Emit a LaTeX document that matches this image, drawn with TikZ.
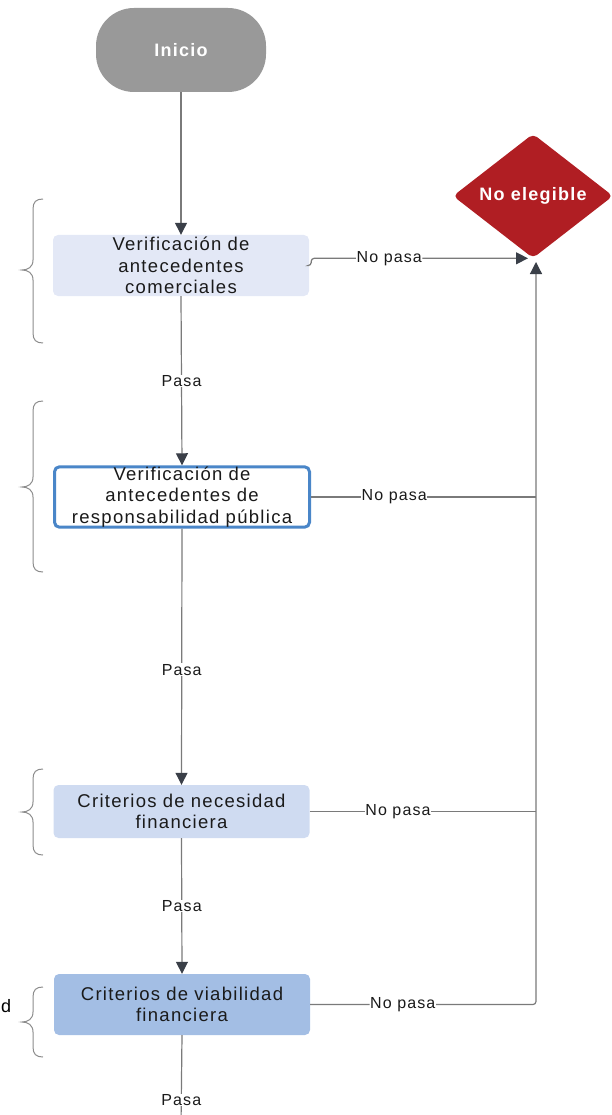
\documentclass[tikz,border=0pt]{standalone}
\usepackage{fontspec}
\setmainfont{Liberation Sans}[LetterSpace=7]
\usetikzlibrary{shapes.geometric,arrows.meta}
\definecolor{linegray}{HTML}{7A7A7A}
\definecolor{tipdark}{HTML}{3A3F48}
\definecolor{startgray}{HTML}{999999}
\definecolor{boxa}{HTML}{E3E8F6}
\definecolor{boxc}{HTML}{CFDBF1}
\definecolor{boxd}{HTML}{A3BEE4}
\definecolor{blueedge}{HTML}{4A86C8}
\definecolor{redd}{HTML}{B01E23}
\definecolor{txt}{HTML}{1A1A1A}
\definecolor{bracegray}{HTML}{8C8C8C}
\tikzset{
  stepbox/.style={rectangle, rounded corners=5pt, minimum width=256pt, text width=250pt, align=center, text=txt, inner sep=0pt, font=\fontsize{18.5}{21.5}\selectfont},
  startnode/.style={rectangle, rounded corners=38pt, fill=startgray, text=white, minimum width=170pt, minimum height=84pt, font=\fontsize{18}{21}\selectfont\bfseries},
  endnode/.style={diamond, rounded corners=5pt, fill=redd, text=white, minimum width=160pt, minimum height=124pt, inner sep=0pt, font=\fontsize{18}{21}\selectfont\bfseries},
  conn/.style={draw=linegray, line width=1.2pt},
  arr/.style={conn, -{Triangle[width=12pt,length=12pt,color=tipdark]}},
  lbl/.style={fill=white, inner sep=0.5pt, text=txt, font=\fontsize{16}{18}\selectfont},
  bracestyle/.style={draw=bracegray, line width=1pt}
}
\newcommand{\mybrace}[3]{%
  \draw[bracestyle] (43,#1) .. controls (36,#1) and (33,#1+3) .. (33,#1+10) -- (33,#2-10) .. controls (33,#2-3) and (28,#2) .. (22,#2) .. controls (28,#2) and (33,#2+3) .. (33,#2+10) -- (33,#3-10) .. controls (33,#3-3) and (36,#3) .. (43,#3);}
\begin{document}
\begin{tikzpicture}[x=1pt,y=-1pt]
\useasboundingbox (0,0) rectangle (612,1115);
\clip (0,0) rectangle (612,1115);
\node[startnode] (start) at (181,50) {Inicio};
\node[stepbox, fill=boxa, minimum height=61pt] (b1) at (181,265.5) {Verificación de\\antecedentes\\comerciales};
\node[stepbox, fill=white, draw=blueedge, line width=3pt, minimum width=255pt, minimum height=59pt] (b2) at (182,497) {Verificación de\\antecedentes de\\responsabilidad pública};
\node[stepbox, fill=boxc, minimum height=53pt] (b3) at (181.5,811.5) {Criterios de necesidad\\financiera};
\node[stepbox, fill=boxd, minimum height=61pt] (b4) at (182,1004.5) {Criterios de viabilidad\\financiera};
\node[endnode] (ne) at (533,196) {No elegible};
\coordinate (bottom) at (181,1125);
\coordinate (join) at (536,262);
\node[anchor=west, text=black, inner sep=0pt, font=\fontsize{18}{21}\selectfont] (cut) at (1,1006) {d};
% main flow
\draw[arr] (start.south) -- (b1.north);
\draw[arr] (b1.south) -- node[lbl, pos=0.5] {Pasa} (b2.north);
\draw[arr] (b2.south) -- node[lbl, pos=0.55] {Pasa} (b3.north);
\draw[arr] (b3.south) -- node[lbl, pos=0.5] {Pasa} (b4.north);
\draw[conn] (b4.south) -- node[lbl, pos=0.72] {Pasa} (bottom);
% no pasa
\draw[arr, rounded corners=3pt] (b1.east) -- ++(2,0) |- node[lbl, pos=0.68] {No pasa} ([xshift=-5pt]ne.south);
\draw[conn] (b2.east) -- node[lbl, pos=0.37] {No pasa} (b2.east -| join);
\draw[conn] (b3.east) -- node[lbl, pos=0.39] {No pasa} (b3.east -| join);
\draw[arr, rounded corners=3pt] (b4.east) -- node[lbl, pos=0.41] {No pasa} (b4.east -| join) -- (join);
% braces
\mybrace{199}{270}{343}
\mybrace{401}{487}{572}
\mybrace{769}{812}{855}
\mybrace{987}{1022}{1057}
\end{tikzpicture}
\end{document}
